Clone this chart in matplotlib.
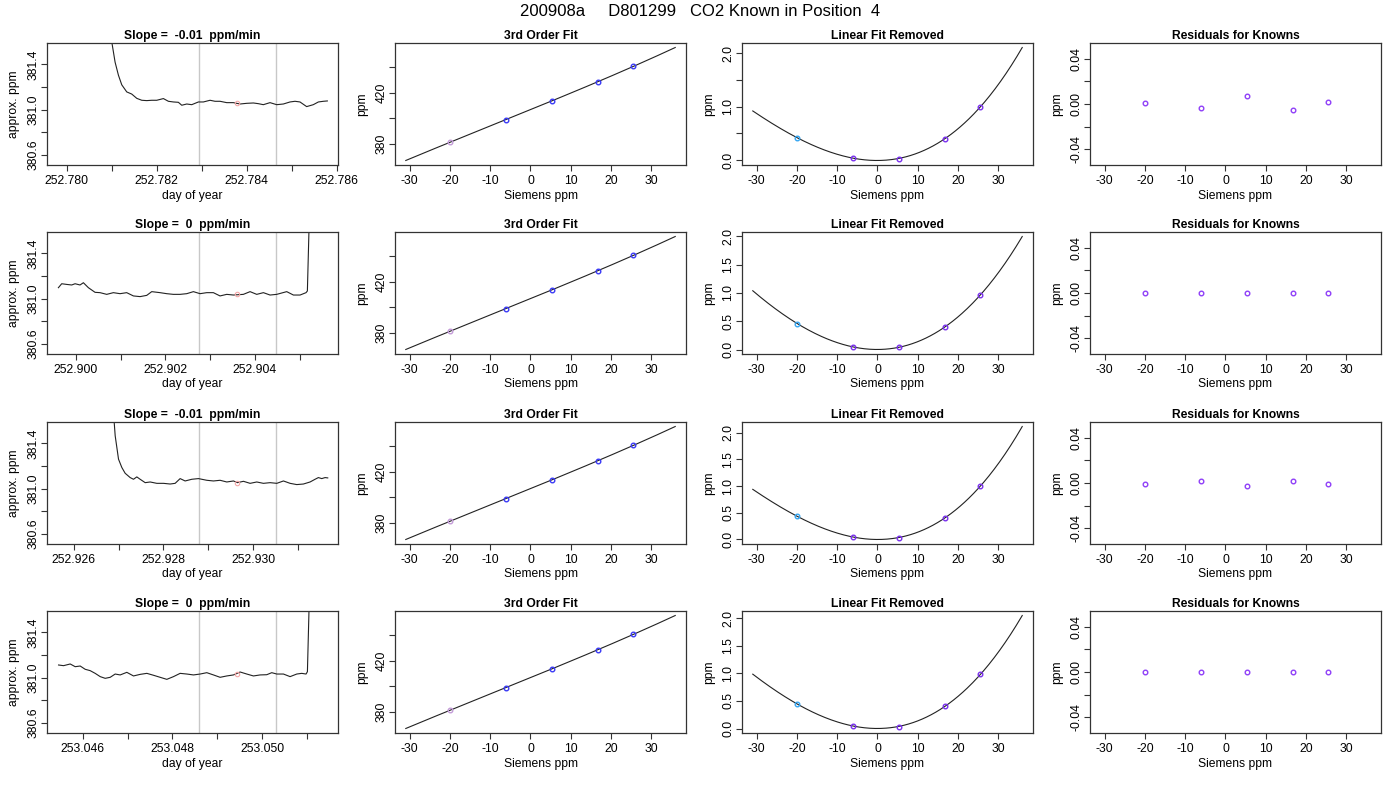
import numpy as np
import matplotlib
matplotlib.use("Agg")
import matplotlib.pyplot as plt

plt.rcParams['font.family'] = ['Liberation Sans', 'DejaVu Sans']
plt.rcParams['axes.unicode_minus'] = False

# ---------------- data ----------------
suptitle = "200908a     D801299   CO2 Known in Position  4"
slope_titles = ["Slope =  -0.01  ppm/min", "Slope =  0  ppm/min",
                "Slope =  -0.01  ppm/min", "Slope =  0  ppm/min"]

# row 1 time series (day of year, approx ppm)
t1 = [252.780850, 252.781000, 252.781074, 252.781148, 252.781222, 252.781333, 252.781444,
      252.781556, 252.781667, 252.781778, 252.781889, 252.782000, 252.782148, 252.782259,
      252.782370, 252.782481, 252.782556, 252.782667, 252.782778, 252.782926, 252.783037,
      252.783185, 252.783296, 252.783407, 252.783556, 252.783704, 252.783852, 252.784000,
      252.784148, 252.784259, 252.784370, 252.784519, 252.784667, 252.784815, 252.784963,
      252.785074, 252.785185, 252.785333, 252.785481, 252.785593, 252.785704, 252.785793]
v1 = [381.85, 381.60, 381.42, 381.305, 381.22, 381.157, 381.138,
      381.100, 381.083, 381.080, 381.083, 381.083, 381.098, 381.074,
      381.068, 381.065, 381.039, 381.050, 381.044, 381.068, 381.068,
      381.083, 381.074, 381.074, 381.062, 381.062, 381.050, 381.056,
      381.059, 381.053, 381.044, 381.062, 381.044, 381.050, 381.068,
      381.074, 381.068, 381.027, 381.044, 381.068, 381.074, 381.077]

# row 2
t2 = [252.899605, 252.899679, 252.899791, 252.899903, 252.899978, 252.900089, 252.900164,
      252.900276, 252.900425, 252.900537, 252.900686, 252.900835, 252.900984, 252.901133,
      252.901283, 252.901432, 252.901581, 252.901693, 252.901879, 252.902028, 252.902177,
      252.902327, 252.902476, 252.902625, 252.902774, 252.902923, 252.903072, 252.903221,
      252.903371, 252.903520, 252.903743, 252.903893, 252.904042, 252.904191, 252.904340,
      252.904489, 252.904713, 252.904862, 252.905011, 252.905145, 252.905175, 252.905250]
v2 = [381.097, 381.132, 381.126, 381.121, 381.132, 381.121, 381.141,
      381.097, 381.056, 381.053, 381.038, 381.053, 381.044, 381.053,
      381.024, 381.018, 381.029, 381.062, 381.053, 381.044, 381.038,
      381.038, 381.044, 381.062, 381.044, 381.053, 381.053, 381.024,
      381.038, 381.032, 381.038, 381.062, 381.038, 381.053, 381.032,
      381.038, 381.062, 381.032, 381.032, 381.053, 381.068, 382.20]

# row 3
t3 = [252.926874, 252.926926, 252.927000, 252.927074, 252.927148, 252.927259, 252.927333,
      252.927407, 252.927481, 252.927593, 252.927704, 252.927852, 252.928000, 252.928148,
      252.928259, 252.928370, 252.928481, 252.928630, 252.928778, 252.928963, 252.929111,
      252.929259, 252.929407, 252.929556, 252.929644, 252.929778, 252.929926, 252.930074,
      252.930222, 252.930370, 252.930519, 252.930667, 252.930815, 252.930963, 252.931111,
      252.931259, 252.931370, 252.931444, 252.931519, 252.931593, 252.931652]
v3 = [381.75, 381.468, 381.261, 381.187, 381.136, 381.098, 381.083,
      381.104, 381.083, 381.053, 381.059, 381.047, 381.047, 381.041,
      381.047, 381.089, 381.068, 381.083, 381.089, 381.074, 381.068,
      381.074, 381.059, 381.068, 381.053, 381.065, 381.047, 381.059,
      381.047, 381.053, 381.047, 381.068, 381.047, 381.036, 381.041,
      381.059, 381.083, 381.098, 381.089, 381.098, 381.095]

# row 4
t4 = [253.045467, 253.045578, 253.045726, 253.045837, 253.045948, 253.046059, 253.046170,
      253.046281, 253.046393, 253.046504, 253.046615, 253.046726, 253.046837, 253.046985,
      253.047133, 253.047281, 253.047430, 253.047578, 253.047726, 253.047874, 253.048022,
      253.048170, 253.048319, 253.048467, 253.048615, 253.048763, 253.048911, 253.049059,
      253.049207, 253.049356, 253.049504, 253.049652, 253.049800, 253.049948, 253.050096,
      253.050207, 253.050319, 253.050467, 253.050615, 253.050763, 253.050874, 253.050970,
      253.051000, 253.051074]
v4 = [381.112, 381.106, 381.121, 381.097, 381.103, 381.074, 381.062,
      381.038, 381.009, 380.994, 381.003, 381.032, 381.024, 381.047,
      381.015, 381.029, 381.038, 381.021, 381.003, 380.985, 381.009,
      381.038, 381.032, 381.024, 381.032, 381.044, 381.024, 381.003,
      381.015, 381.024, 381.050, 381.032, 381.015, 381.024, 381.026,
      381.044, 381.032, 381.032, 381.009, 381.032, 381.038, 381.032,
      381.053, 382.20]

# averaging window bounds (grey lines) and mean marker (pink)
window_bounds = [(252.78293, 252.78466), (252.90274, 252.90448),
                 (252.92879, 252.93051), (253.04859, 253.05031)]
mean_points = [(252.78378, 381.060), (252.90361, 381.040),
               (252.92964, 381.053), (253.04944, 381.030)]

# day-of-year tick values per row
doy_ticks = [[252.780, 252.781, 252.782, 252.783, 252.784, 252.785, 252.786],
             [252.900, 252.901, 252.902, 252.903, 252.904, 252.905],
             [252.926, 252.927, 252.928, 252.929, 252.930, 252.931],
             [253.046, 253.047, 253.048, 253.049, 253.050, 253.051]]
doy_labels = [["252.780", "", "252.782", "", "252.784", "", "252.786"],
              ["252.900", "", "252.902", "", "252.904", ""],
              ["252.926", "", "252.928", "", "252.930", ""],
              ["253.046", "", "253.048", "", "253.050", ""]]
doy_xlim = [(252.77956, 252.78603), (252.89935, 252.90586),
            (252.92541, 252.93188), (253.04521, 253.05168)]

# known standards
known_siemens = [-19.9, -6.1, 5.3, 16.7, 25.6]
known_ppm = [381.3, 398.95, 413.5, 428.55, 440.6]
fit_range = (-31.0, 36.0)

linear_removed = [[0.416, 0.043, 0.025, 0.404, 0.994],
                  [0.459, 0.052, 0.041, 0.400, 0.965],
                  [0.430, 0.045, 0.032, 0.400, 1.000],
                  [0.442, 0.048, 0.036, 0.400, 0.980]]

residuals = [[0.0009, -0.0038, 0.0067, -0.0053, 0.0018],
             [0.0001, 0.0001, 0.0000, 0.0001, 0.0000],
             [-0.0006, 0.0015, -0.0029, 0.0018, -0.0009],
             [0.0000, -0.0003, 0.0003, -0.0003, 0.0000]]

# ---------------- figure ----------------
W, H = 1400, 800
fig = plt.figure(figsize=(W / 100, H / 100), dpi=100)
fig.text(0.5, 1 - 11 / H, suptitle, ha='center', va='center', fontsize=12)

lefts = [47, 395, 742, 1090]
tops = [43, 232, 422, 611]
aw, ah = 291, 122

FS = 8.7
LC = '#222222'
MS = 3.3
col2_colors = ['#c39bd8', '#3a3af5', '#3a3af5', '#3a3af5', '#3a3af5']
col3_colors = ['#36a6f2', '#7a30ee', '#7a30ee', '#7a30ee', '#7a30ee']
col4_color = '#8f3ff8'

series_t = [t1, t2, t3, t4]
series_v = [v1, v2, v3, v4]


def style(ax, xlabel, ylabel):
    for s in ax.spines.values():
        s.set_linewidth(0.9)
        s.set_color('#333333')
    ax.tick_params(direction='out', length=4.5, width=0.8, labelsize=FS, color='#333333')
    ax.tick_params(axis='x', pad=2.5)
    ax.tick_params(axis='y', pad=1)
    for lab in ax.get_yticklabels():
        lab.set_rotation(90)
        lab.set_va('center')
    ax.set_xlabel(xlabel, fontsize=FS)
    ax.set_ylabel(ylabel, fontsize=FS)
    ax.xaxis.set_label_coords(0.5, -24.5 / ah)
    ax.yaxis.set_label_coords(-27.0 / aw, 0.5)


xs = np.linspace(fit_range[0], fit_range[1], 300)
xr = fit_range[1] - fit_range[0]
xlim_cal = (fit_range[0] - 0.04 * xr, fit_range[1] + 0.04 * xr)

for r in range(4):
    bottom = 1 - (tops[r] + ah) / H

    # --- column 1: time series ---
    ax = fig.add_axes([lefts[0] / W, bottom, aw / W, ah / H])
    for b in window_bounds[r]:
        ax.axvline(b, color='#c8c8c8', lw=1.0, zorder=1)
    ax.plot(series_t[r], series_v[r], color=LC, lw=0.8, zorder=2)
    ax.plot([mean_points[r][0]], [mean_points[r][1]], 'o', mfc='none',
            mec='#f4a6a6', ms=3.2, mew=0.8, zorder=3)
    ax.set_xlim(doy_xlim[r])
    ax.set_ylim(380.51, 381.59)
    ax.set_xticks(doy_ticks[r])
    ax.set_xticklabels(doy_labels[r])
    ax.set_yticks([380.6, 380.8, 381.0, 381.2, 381.4])
    ax.set_yticklabels(['380.6', '', '381.0', '', '381.4'])
    ax.set_title(slope_titles[r], fontsize=FS, fontweight='bold', pad=3)
    style(ax, 'day of year', 'approx. ppm')

    # --- column 2: 3rd order fit ---
    ax = fig.add_axes([lefts[1] / W, bottom, aw / W, ah / H])
    c2 = np.polyfit(known_siemens, known_ppm, 3)
    y2 = np.polyval(c2, xs)
    ax.plot(xs, y2, color=LC, lw=0.8)
    for k in range(5):
        ax.plot([known_siemens[k]], [known_ppm[k]], 'o', mfc='none',
                mec=col2_colors[k], ms=MS, mew=1.0)
    ax.set_xlim(xlim_cal)
    yr = y2.max() - y2.min()
    ax.set_ylim(y2.min() - 0.04 * yr, y2.max() + 0.04 * yr)
    ax.set_xticks([-30, -20, -10, 0, 10, 20, 30])
    ax.set_yticks([380, 400, 420, 440])
    ax.set_yticklabels(['380', '', '420', ''])
    ax.set_title('3rd Order Fit', fontsize=FS, fontweight='bold', pad=3)
    style(ax, 'Siemens ppm', 'ppm')

    # --- column 3: linear fit removed ---
    ax = fig.add_axes([lefts[2] / W, bottom, aw / W, ah / H])
    c3 = np.polyfit(known_siemens, linear_removed[r], 3)
    y3 = np.polyval(c3, xs)
    ax.plot(xs, y3, color=LC, lw=0.8)
    for k in range(5):
        ax.plot([known_siemens[k]], [linear_removed[r][k]], 'o', mfc='none',
                mec=col3_colors[k], ms=MS, mew=1.0)
    ax.set_xlim(xlim_cal)
    lo = min(y3.min(), min(linear_removed[r]))
    hi = max(y3.max(), max(linear_removed[r]))
    ax.set_ylim(lo - 0.04 * (hi - lo), hi + 0.04 * (hi - lo))
    ax.set_xticks([-30, -20, -10, 0, 10, 20, 30])
    ax.set_yticks([0.0, 0.5, 1.0, 1.5, 2.0])
    if r == 0:
        ax.set_yticklabels(['0.0', '', '1.0', '', '2.0'])
    else:
        ax.set_yticklabels(['0.0', '0.5', '1.0', '1.5', '2.0'])
    ax.set_title('Linear Fit Removed', fontsize=FS, fontweight='bold', pad=3)
    style(ax, 'Siemens ppm', 'ppm')

    # --- column 4: residuals ---
    ax = fig.add_axes([lefts[3] / W, bottom, aw / W, ah / H])
    ax.plot(known_siemens, residuals[r], 'o', mfc='none', mec=col4_color,
            ms=MS, mew=1.0, ls='none')
    ax.set_xlim(xlim_cal)
    ax.set_ylim(-0.054, 0.054)
    ax.set_xticks([-30, -20, -10, 0, 10, 20, 30])
    ax.set_yticks([-0.04, -0.02, 0.0, 0.02, 0.04])
    ax.set_yticklabels(['-0.04', '', '0.00', '', '0.04'])
    ax.set_title('Residuals for Knowns', fontsize=FS, fontweight='bold', pad=3)
    style(ax, 'Siemens ppm', 'ppm')

fig.savefig('out.png', dpi=100)
